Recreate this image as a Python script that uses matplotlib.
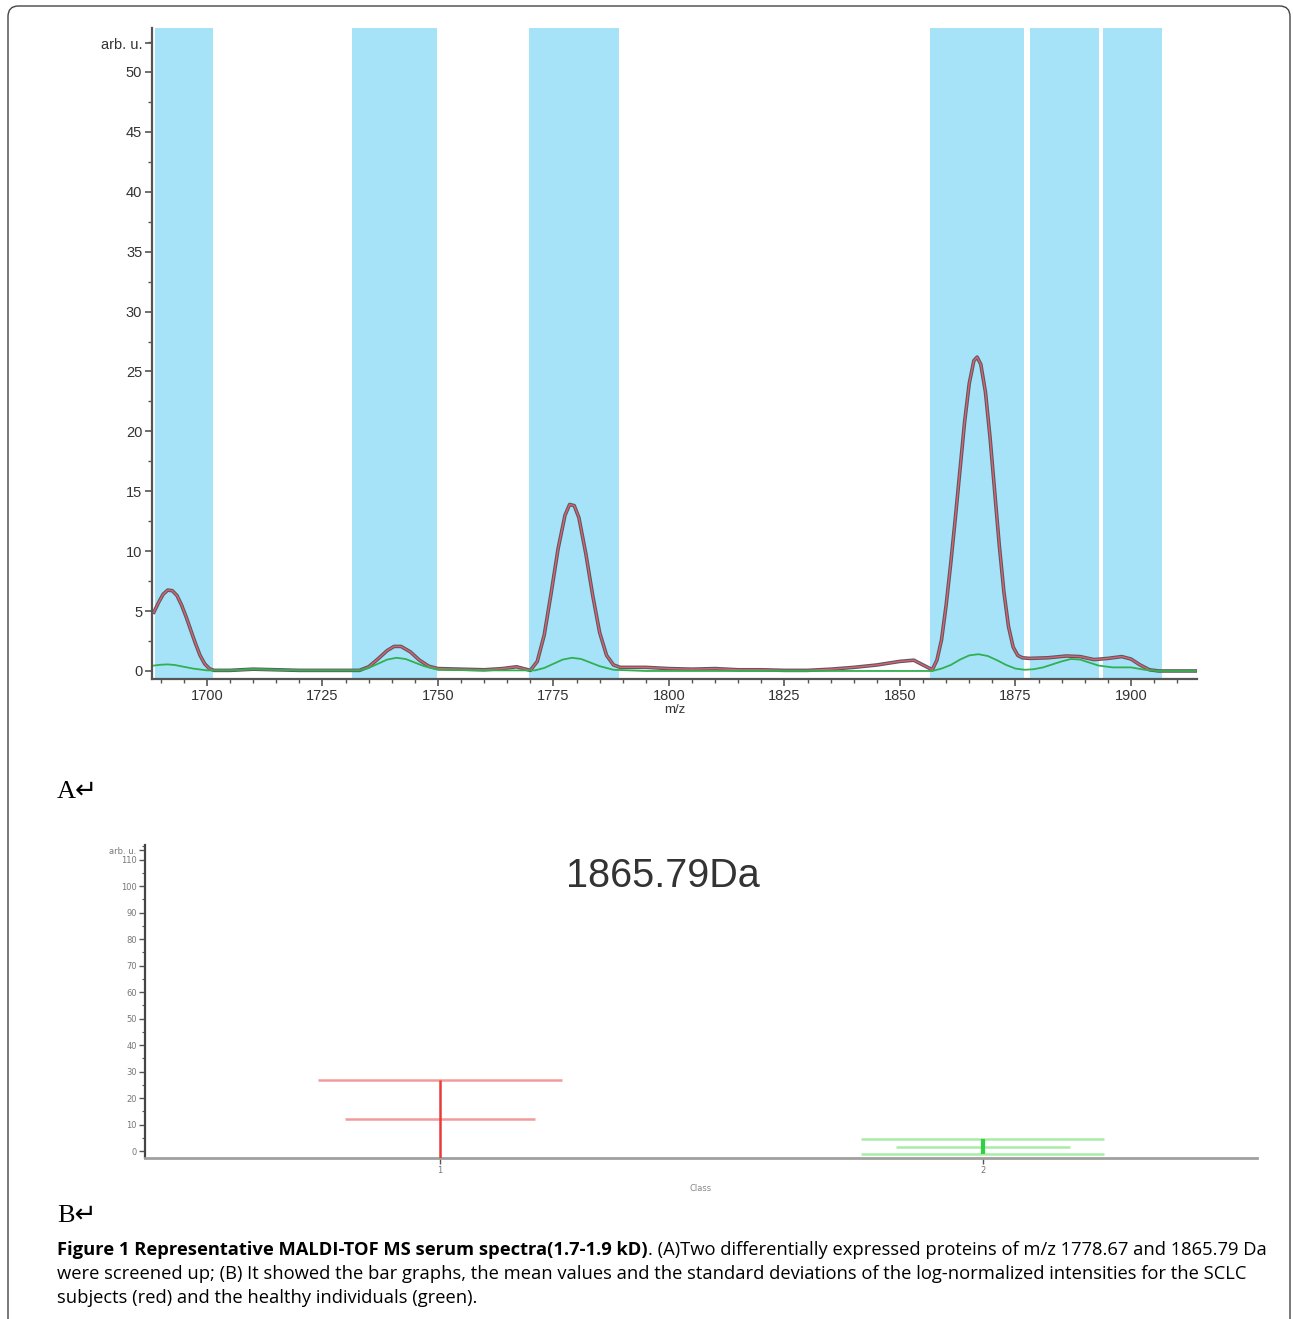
import matplotlib
matplotlib.use('Agg')
import matplotlib.pyplot as plt
from matplotlib.patches import FancyBboxPatch
from matplotlib.ticker import MultipleLocator

# spectrum (panel A)
red_mz = [1688.5, 1689.5, 1690.5, 1691.5, 1692.5, 1693.5, 1694.5, 1695.5, 1696.5, 1697.5, 1698.5,
          1699.5, 1700.5, 1701.5, 1705, 1710, 1715, 1720, 1725, 1730,
          1733, 1735, 1737, 1739, 1740.5, 1742, 1744, 1746, 1748, 1750, 1755, 1760, 1764, 1767,
          1770, 1771.5, 1773, 1774.5, 1776, 1777.5, 1778.5, 1779.5, 1780.5, 1782, 1783.5, 1785,
          1786.5, 1788, 1789.5, 1795, 1800, 1805, 1810, 1815, 1820, 1825, 1830, 1835, 1840,
          1845, 1850, 1853, 1855, 1857,
          1858, 1859, 1860, 1861, 1862, 1863, 1864, 1865, 1866, 1866.7, 1867.5, 1868.5, 1869.5,
          1870.5, 1871.5, 1872.5, 1873.5, 1874.5, 1875.5, 1876.5,
          1878, 1882, 1886, 1889, 1892, 1895, 1898, 1900, 1902, 1904, 1906, 1914]
red_int = [4.9, 5.7, 6.4, 6.75, 6.7, 6.3, 5.5, 4.5, 3.4, 2.3, 1.3,
           0.6, 0.2, 0.05, 0.05, 0.15, 0.1, 0.05, 0.05, 0.05,
           0.05, 0.35, 1.0, 1.7, 2.05, 2.05, 1.6, 0.9, 0.4, 0.2, 0.15, 0.1, 0.2, 0.35,
           0.05, 0.8, 3.0, 6.5, 10.2, 13.0, 13.9, 13.8, 12.8, 9.8, 6.3, 3.2,
           1.3, 0.5, 0.3, 0.3, 0.2, 0.15, 0.2, 0.1, 0.1, 0.05, 0.05, 0.15, 0.3,
           0.5, 0.8, 0.9, 0.5, 0.1,
           0.9, 2.6, 5.5, 9.0, 12.8, 16.8, 20.8, 24.0, 25.9, 26.2, 25.6, 23.3, 19.5,
           15.0, 10.5, 6.6, 3.7, 2.0, 1.3, 1.1,
           1.05, 1.1, 1.25, 1.2, 0.95, 1.05, 1.2, 1.0, 0.5, 0.1, 0.0, 0.0]

green_mz = [1688.5, 1690, 1691.5, 1693, 1695, 1697, 1700, 1705, 1710, 1715, 1720, 1733, 1735,
            1737, 1739, 1741, 1743, 1745, 1747, 1750, 1760, 1771, 1773, 1775, 1777, 1779, 1781,
            1783, 1785, 1788, 1795, 1857, 1859, 1861, 1863, 1865, 1867, 1869, 1871, 1873, 1875,
            1877, 1879, 1881, 1883, 1885, 1887, 1889, 1891, 1893, 1896, 1900, 1903, 1906, 1914]
green_int = [0.45, 0.52, 0.55, 0.5, 0.35, 0.2, 0.05, 0.05, 0.15, 0.1, 0.05, 0.05, 0.25,
             0.6, 0.95, 1.1, 1.0, 0.7, 0.4, 0.1, 0.05, 0.05, 0.25, 0.6, 0.95, 1.1, 1.0,
             0.7, 0.4, 0.1, 0.0, 0.0, 0.2, 0.5, 0.95, 1.3, 1.4, 1.25, 0.9, 0.5, 0.2,
             0.1, 0.15, 0.3, 0.55, 0.8, 1.0, 0.95, 0.7, 0.45, 0.3, 0.3, 0.1, 0.0, 0.0]

# highlighted m/z windows
band_start = [1688.7, 1731.5, 1769.7, 1856.5, 1878.1, 1894.0]
band_end = [1701.3, 1749.8, 1789.2, 1876.8, 1893.1, 1906.8]

# panel B: mean / sd per class
classes = [1, 2]
class_means = [12, 1.6]
class_sds = [15, 2.8]

fig = plt.figure(figsize=(12.93, 13.19), dpi=100)

# outer frame
frame = FancyBboxPatch((8 / 1293, -0.02), 1282 / 1293, 1.0 - 6 / 1319 + 0.02,
                       boxstyle='round,pad=0,rounding_size=0.008',
                       transform=fig.transFigure, fill=False, ec='#444444', lw=1.0)
fig.patches.append(frame)

######################## panel A ########################
ax = fig.add_axes([152 / 1293, 1 - 679 / 1319, 1045 / 1293, 651 / 1319])
for s, e in zip(band_start, band_end):
    ax.axvspan(s, e, color='#a6e3f9', lw=0, zorder=1)
ax.plot(red_mz, red_int, color='#5a5a60', lw=2.6, zorder=3)
ax.plot(red_mz, red_int, color='#e06070', lw=1.0, zorder=4)
ax.plot(green_mz, green_int, color='#30b050', lw=1.3, zorder=5)
ax.set_xlim(1688.1, 1914.3)
ax.set_ylim(-0.67, 53.67)
for sp in ['top', 'right']:
    ax.spines[sp].set_visible(False)
for sp in ['left', 'bottom']:
    ax.spines[sp].set_color('#555555')
    ax.spines[sp].set_linewidth(1.6)
ax.xaxis.set_major_locator(MultipleLocator(25))
ax.xaxis.set_minor_locator(MultipleLocator(5))
ax.yaxis.set_minor_locator(MultipleLocator(2.5))
ax.set_yticks(list(range(0, 55, 5)) + [52.4])
ax.set_yticklabels([str(v) for v in range(0, 55, 5)] + ['arb. u.'])
ax.tick_params(axis='both', which='major', length=5, width=1.2, color='#555555',
               labelsize=10.5, labelcolor='#333333', pad=2)
ax.tick_params(axis='both', which='minor', length=3, width=1.0, color='#555555')
for lab in ax.get_xticklabels() + ax.get_yticklabels():
    lab.set_family('Liberation Sans')
ax.set_xlabel('m/z', fontsize=9.5, color='#333333', labelpad=1, family='Liberation Sans')

fig.text(57 / 1293, 1 - 792 / 1319, 'A\u21b5', fontsize=19,
         family=['Liberation Serif', 'DejaVu Sans'], va='center', ha='left')

######################## panel B ########################
bx = fig.add_axes([145 / 1293, 1 - 1158 / 1319, 1112 / 1293, 313 / 1319])
cols_light = ['#f49a9a', '#a8eca8']
cols_dark = ['#e83a3a', '#30d040']
long_half = [0.225, 0.224]
short_half = [0.175, 0.16]
vlw = [1.8, 3.0]
for c, m, sd, cl, cd, lh, sh, w in zip(classes, class_means, class_sds, cols_light,
                                       cols_dark, long_half, short_half, vlw):
    bx.hlines([m + sd, m - sd], c - lh, c + lh, color=cl, lw=1.8, zorder=2)
    bx.hlines(m, c - sh, c + sh, color=cl, lw=1.8, zorder=2)
    bx.vlines(c, m - sd, m + sd, color=cd, lw=w, zorder=3)
bx.set_xlim(0.457, 2.505)
bx.set_ylim(-2.6, 115.5)
for sp in ['top', 'right']:
    bx.spines[sp].set_visible(False)
bx.spines['left'].set_color('#444444')
bx.spines['left'].set_linewidth(1.6)
bx.spines['bottom'].set_color('#a0a0a0')
bx.spines['bottom'].set_linewidth(2.0)
bx.set_yticks(list(range(0, 120, 10)) + [113.5])
bx.set_yticklabels([str(v) for v in range(0, 120, 10)] + ['arb. u.'])
bx.yaxis.set_minor_locator(MultipleLocator(5))
bx.set_xticks(classes)
bx.set_xticklabels(['1', '2'])
bx.tick_params(axis='both', which='major', length=4, width=1.0, color='#555555',
               labelsize=6, labelcolor='#777777', pad=2)
bx.tick_params(axis='y', which='minor', length=2, width=0.8, color='#555555')
bx.set_xlabel('Class', fontsize=6, color='#888888', labelpad=6)
bx.set_title('1865.79Da', fontsize=28.5, color='#333333', family='Liberation Sans',
             x=(663 - 145) / 1112, y=0.84)

fig.text(57 / 1293, 1 - 1216 / 1319, 'B\u21b5', fontsize=19,
         family=['Liberation Serif', 'DejaVu Sans'], va='center', ha='left')

######################## caption ########################
cap_font = ['Open Sans', 'DejaVu Sans']
t1 = fig.text(57 / 1293, 1 - 1250 / 1319,
              'Figure 1 Representative MALDI-TOF MS serum spectra(1.7-1.9 kD)',
              fontsize=13.2, fontweight='bold', family=cap_font, va='center', ha='left')
plt.annotate('. (A)Two differentially expressed proteins of m/z 1778.67 and 1865.79 Da',
             xy=(1, 0), xycoords=t1, va='bottom', ha='left', fontsize=13.2, family=cap_font)
fig.text(57 / 1293, 1 - 1274 / 1319,
         'were screened up; (B) It showed the bar graphs, the mean values and the standard '
         'deviations of the log-normalized intensities for the SCLC',
         fontsize=13.2, family=cap_font, va='center', ha='left')
fig.text(57 / 1293, 1 - 1298 / 1319,
         'subjects (red) and the healthy individuals (green).',
         fontsize=13.2, family=cap_font, va='center', ha='left')

plt.savefig('out.png', dpi=100)
plt.close()
